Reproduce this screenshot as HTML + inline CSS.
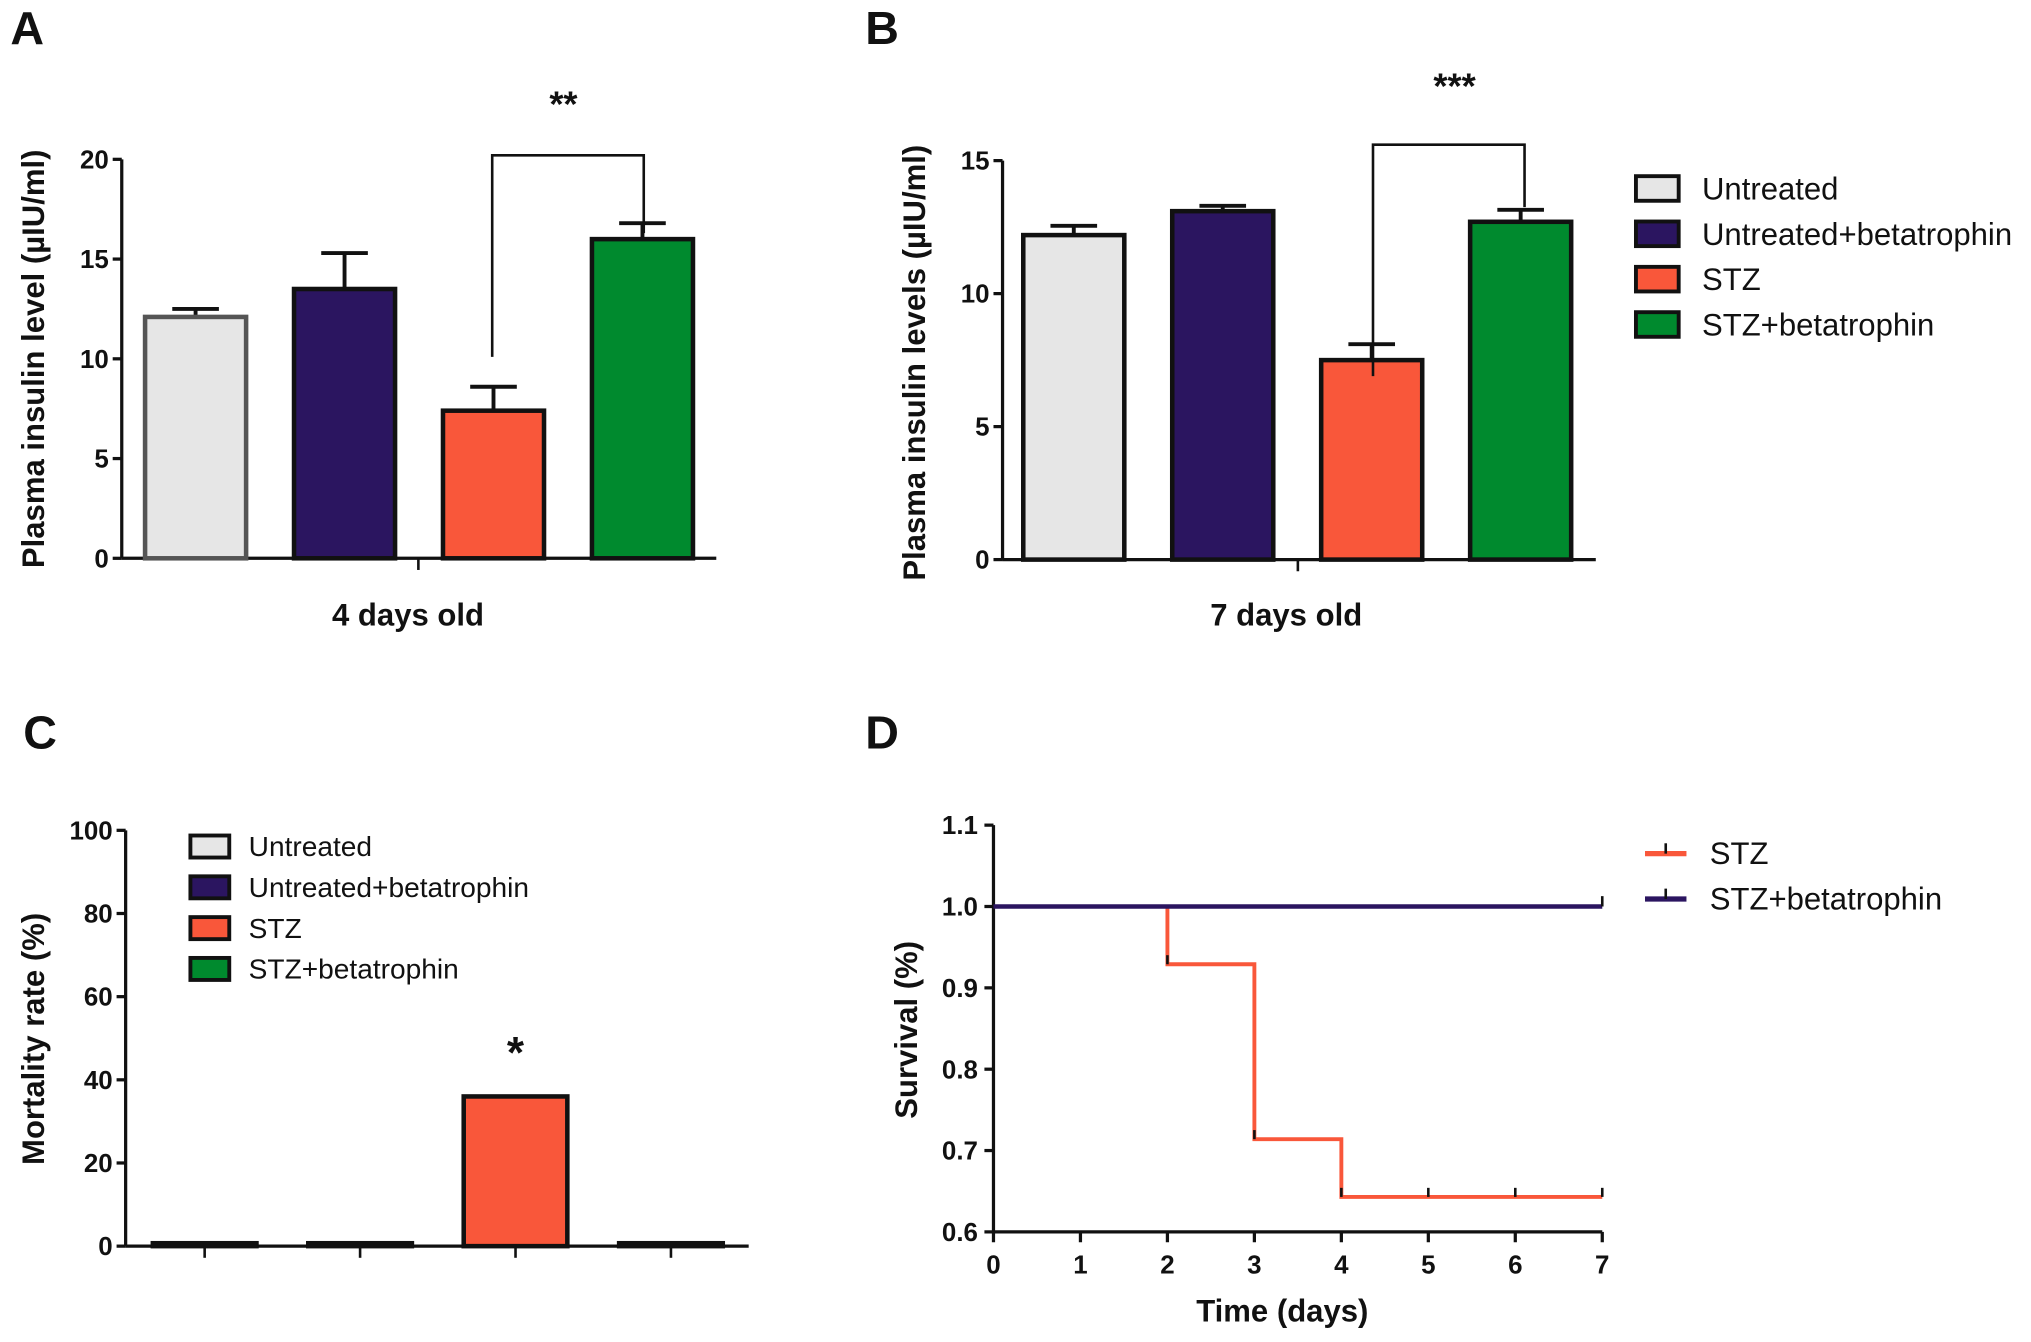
<!DOCTYPE html>
<html><head><meta charset="utf-8"><style>
html,body{margin:0;padding:0;background:#fff}
svg{display:block;font-family:"Liberation Sans",Arial,sans-serif}
</style></head><body>
<svg id="fig" width="2031" height="1342" viewBox="0 0 1568 1036" preserveAspectRatio="none" xmlns="http://www.w3.org/2000/svg"></svg>
<script>
const groups=["Untreated","Untreated+betatrophin","STZ","STZ+betatrophin"];
const colors=["#e6e6e6","#2b1560","#f9573a","#008a2e"];
const aVals=[12.1,13.5,7.4,16.0];
const aErr=[0.4,1.8,1.2,0.8];
const aTicks=[0,5,10,15,20];
const bVals=[12.2,13.1,7.5,12.7];
const bErr=[0.35,0.2,0.6,0.45];
const bTicks=[0,5,10,15];
const cVals=[0.7,0.7,36,0.7];
const cTicks=[0,20,40,60,80,100];
const dTimes=[0,2,3,4,7];
const dStz=[1,0.929,0.714,0.643,0.643];
const dStzCens=[5,6,7];
const dBeta=[1,1];
const dBetaTimes=[0,7];
const dTicksX=[0,1,2,3,4,5,6,7];
const dTicksY=[0.6,0.7,0.8,0.9,1.0,1.1];

const svg=document.getElementById('fig');
const NS="http://www.w3.org/2000/svg";
function el(tag,attrs,parent,name){const e=document.createElementNS(NS,tag);for(const k in attrs)e.setAttribute(k,attrs[k]);


(parent||svg).appendChild(e);return e;}
function txt(x,y,s,size,opts,name){const t=el('text',Object.assign({x:x,y:y,'font-size':size,'font-weight':'bold',fill:'#111'},opts||{}),svg,name);t.textContent=s;return t;}

function barPanel(cfg){
  const y=v=>cfg.y0-(v-cfg.ymin)/(cfg.ymax-cfg.ymin)*(cfg.y0-cfg.ytop);
  el('line',{x1:cfg.ax,y1:cfg.ytop,x2:cfg.ax,y2:cfg.y0,stroke:'#111','stroke-width':2.5},svg,'y-axis');
  el('line',{x1:cfg.ax,y1:cfg.y0,x2:cfg.axEnd,y2:cfg.y0,stroke:'#111','stroke-width':2.5},svg,'x-axis');
  cfg.ticks.forEach(t=>{
    el('line',{x1:cfg.ax-7,y1:y(t),x2:cfg.ax,y2:y(t),stroke:'#111','stroke-width':2.5},svg,'y-tick');
    txt(cfg.ax-10,y(t)+7,String(t),20,{'text-anchor':'end'},'y-tick-label');
  });
  cfg.vals.forEach((v,i)=>{
    const x=cfg.bx0+i*cfg.step, w=cfg.bw;
    if(cfg.err){
      const top=y(v+cfg.err[i]);
      el('line',{x1:x+w/2,y1:y(v),x2:x+w/2,y2:top,stroke:'#111','stroke-width':3},svg,'error-bar');
      el('line',{x1:x+w/2-18,y1:top,x2:x+w/2+18,y2:top,stroke:'#111','stroke-width':3},svg,'error-cap');
    }
    el('rect',{x:x,y:y(v),width:w,height:cfg.y0-y(v),fill:colors[i],stroke:i==0&&cfg.greyEdge?'#555':'#111','stroke-width':3.5},svg,'bar-'+groups[i].toLowerCase().replace('+','-'));
  });
  return y;
}
// Panel A
txt(8,34,"A",36,{},'panel-label-a');
let yA=barPanel({ax:94,axEnd:553,y0:431,ytop:123,ymin:0,ymax:20,ticks:aTicks,vals:aVals,err:aErr,bx0:112,step:115,bw:78,greyEdge:true});
el('line',{x1:323,y1:431,x2:323,y2:440,stroke:'#111','stroke-width':2},svg,'x-tick');
el('polyline',{points:`380,${yA(10.1)} 380,${yA(20.2)} 497,${yA(20.2)} 497,${yA(16.3)}`,fill:'none',stroke:'#111','stroke-width':2},svg,'significance-bracket');
txt(435,90,"**",28,{'text-anchor':'middle'},'significance-stars');
txt(0,0,"Plasma insulin level (µIU/ml)",24,{transform:'translate(34,277) rotate(-90)','text-anchor':'middle'},'y-axis-title');
txt(315,483,"4 days old",24,{'text-anchor':'middle'},'x-axis-title');
// Panel B
txt(668,34,"B",36,{},'panel-label-b');
let yB=barPanel({ax:774,axEnd:1232,y0:432,ytop:124,ymin:0,ymax:15,ticks:bTicks,vals:bVals,err:bErr,bx0:790,step:115,bw:78});
el('line',{x1:1002,y1:432,x2:1002,y2:441,stroke:'#111','stroke-width':2},svg,'x-tick');
el('polyline',{points:`1060,${yB(6.9)} 1060,${yB(15.6)} 1177,${yB(15.6)} 1177,${yB(13.25)}`,fill:'none',stroke:'#111','stroke-width':2},svg,'significance-bracket');
txt(1123,76,"***",28,{'text-anchor':'middle'},'significance-stars');
txt(0,0,"Plasma insulin levels (µIU/ml)",24,{transform:'translate(714,280) rotate(-90)','text-anchor':'middle'},'y-axis-title');
txt(993,483,"7 days old",24,{'text-anchor':'middle'},'x-axis-title');
groups.forEach((g,i)=>{
  el('rect',{x:1263,y:136+i*35,width:33,height:19,fill:colors[i],stroke:'#111','stroke-width':3},svg,'legend-swatch');
  txt(1314,154+i*35,g,24,{'font-weight':'normal'},'legend-entry');
});
// Panel C
txt(18,578,"C",36,{},'panel-label-c');
barPanel({ax:97,axEnd:578,y0:962,ytop:641,ymin:0,ymax:100,ticks:cTicks,vals:cVals,bx0:118,step:120,bw:80});
[0,1,2,3].forEach(i=>el('line',{x1:158+i*120,y1:962,x2:158+i*120,y2:971,stroke:'#111','stroke-width':2},svg,'x-tick'));
txt(398,824,"*",34,{'text-anchor':'middle'},'significance-star');
txt(0,0,"Mortality rate (%)",24,{transform:'translate(34,802) rotate(-90)','text-anchor':'middle'},'y-axis-title');
groups.forEach((g,i)=>{
  el('rect',{x:147,y:645+i*31.5,width:30,height:17,fill:colors[i],stroke:'#111','stroke-width':3},svg,'legend-swatch');
  txt(192,661+i*31.5,g,21.7,{'font-weight':'normal'},'legend-entry');
});
// Panel D
txt(668,578,"D",36,{},'panel-label-d');
const dx=t=>767+t/7*(1237-767);
const dy=v=>951-(v-0.6)/0.5*(951-637);
el('line',{x1:767,y1:637,x2:767,y2:951,stroke:'#111','stroke-width':2.5},svg,'y-axis');
el('line',{x1:767,y1:951,x2:1237,y2:951,stroke:'#111','stroke-width':2.5},svg,'x-axis');
dTicksY.forEach(t=>{el('line',{x1:760,y1:dy(t),x2:767,y2:dy(t),stroke:'#111','stroke-width':2.5},svg,'y-tick');
  txt(755,dy(t)+7,t.toFixed(1),20,{'text-anchor':'end'},'y-tick-label');});
dTicksX.forEach(t=>{el('line',{x1:dx(t),y1:951,x2:dx(t),y2:959,stroke:'#111','stroke-width':2.5},svg,'x-tick');
  txt(dx(t),983,String(t),20,{'text-anchor':'middle'},'x-tick-label');});
txt(0,0,"Survival (%)",24,{transform:'translate(708,795) rotate(-90)','text-anchor':'middle'},'y-axis-title');
txt(990,1020,"Time (days)",24,{'text-anchor':'middle'},'x-axis-title');
let pts=[];for(let i=0;i<dTimes.length;i++){if(i>0)pts.push(`${dx(dTimes[i])},${dy(dStz[i-1])}`);pts.push(`${dx(dTimes[i])},${dy(dStz[i])}`);}
el('polyline',{points:pts.join(' '),fill:'none',stroke:'#f9573a','stroke-width':3},svg,'survival-line-stz');
let p=`${dx(dBetaTimes[0])},${dy(dBeta[0])} ${dx(dBetaTimes[1])},${dy(dBeta[1])}`;
el('polyline',{points:p,fill:'none',stroke:'#2b1560','stroke-width':3.5},svg,'survival-line-stz-betatrophin');
dStzCens.forEach(t=>el('line',{x1:dx(t),y1:dy(0.643)-7,x2:dx(t),y2:dy(0.643),stroke:'#111','stroke-width':2},svg,'censor-mark'));
[2,3,4].forEach((t,i)=>el('line',{x1:dx(t),y1:dy(dStz[i+1])-7,x2:dx(t),y2:dy(dStz[i+1]),stroke:'#111','stroke-width':2},svg,'censor-mark'));
el('line',{x1:dx(7),y1:dy(1)-8,x2:dx(7),y2:dy(1),stroke:'#111','stroke-width':2},svg,'censor-mark');
el('line',{x1:1270,y1:659,x2:1302,y2:659,stroke:'#f9573a','stroke-width':4},svg,'legend-line-stz');
el('line',{x1:1286,y1:651,x2:1286,y2:659,stroke:'#111','stroke-width':2},svg,'legend-tick');
txt(1320,667,"STZ",24,{'font-weight':'normal'},'legend-entry');
el('line',{x1:1270,y1:694,x2:1302,y2:694,stroke:'#2b1560','stroke-width':4},svg,'legend-line-stz-betatrophin');
el('line',{x1:1286,y1:686,x2:1286,y2:694,stroke:'#111','stroke-width':2},svg,'legend-tick');
txt(1320,702,"STZ+betatrophin",24,{'font-weight':'normal'},'legend-entry');
</script>
</body></html>
